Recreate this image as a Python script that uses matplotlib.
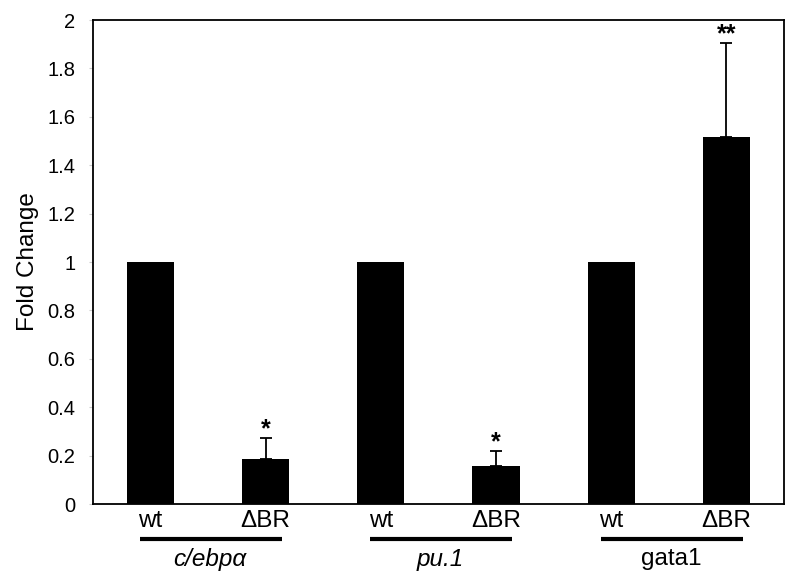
import numpy as np
import matplotlib.pyplot as plt
from matplotlib.transforms import blended_transform_factory

plt.rcParams['font.family'] = ['Liberation Sans', 'DejaVu Sans']

# data
conditions = ["wt", "\u0394BR", "wt", "\u0394BR", "wt", "\u0394BR"]
genes = ["c/ebp\u03b1", "pu.1", "gata1"]
gene_italic = [True, True, False]
fold_change = [1.0, 0.186, 1.0, 0.158, 1.0, 1.515]
err_up = [0.0, 0.087, 0.0, 0.062, 0.0, 0.39]
stars = ["", "*", "", "*", "", "**"]

fig = plt.figure(figsize=(8, 5.82), dpi=100)
ax = fig.add_axes([0.116, 0.134, 0.864, 0.8316])

x = np.arange(len(fold_change))
ax.bar(x, fold_change, width=0.41, color="black", zorder=2)

has_err = np.array(err_up) > 0
ax.errorbar(x[has_err], np.array(fold_change)[has_err],
            yerr=[np.zeros(has_err.sum()), np.array(err_up)[has_err]],
            fmt="none", ecolor="black", elinewidth=1.3, capsize=4.5,
            capthick=1.3, zorder=3)

for xi, v, e, s in zip(x, fold_change, err_up, stars):
    if s:
        ax.text(xi, v + e - 0.014, s, ha="center", va="bottom",
                fontsize=18, fontweight="bold")

ax.set_xlim(-0.5, 5.5)
ax.set_ylim(0, 2)
ax.set_yticks(np.arange(0, 2.01, 0.2))
ax.set_yticklabels(["0", "0.2", "0.4", "0.6", "0.8", "1", "1.2", "1.4",
                    "1.6", "1.8", "2"], fontsize=14.5)
ax.tick_params(axis="y", length=3, color="#cccccc", pad=9.5)
ax.set_xticks([])
ax.set_ylabel("Fold Change", fontsize=17.5, labelpad=6)
for sp in ax.spines.values():
    sp.set_linewidth(1.3)

# condition labels and group lines below the axis
trans = blended_transform_factory(ax.transData, ax.transAxes)
for xi, lab in zip(x, conditions):
    ax.text(xi, -0.013, lab, transform=trans, ha="center", va="top",
            fontsize=17.5)

for g, (name, it) in enumerate(zip(genes, gene_italic)):
    x0, x1 = x[2 * g], x[2 * g + 1]
    ax.plot([x0 - 0.09, x1 + 0.14], [-0.072, -0.072], transform=trans,
            color="black", lw=3, clip_on=False, solid_capstyle="butt")
    ax.text((x0 + x1) / 2 + 0.02, -0.09, name, transform=trans,
            ha="center", va="top", fontsize=17.5,
            style="italic" if it else "normal")

fig.savefig("out.png", dpi=100)
